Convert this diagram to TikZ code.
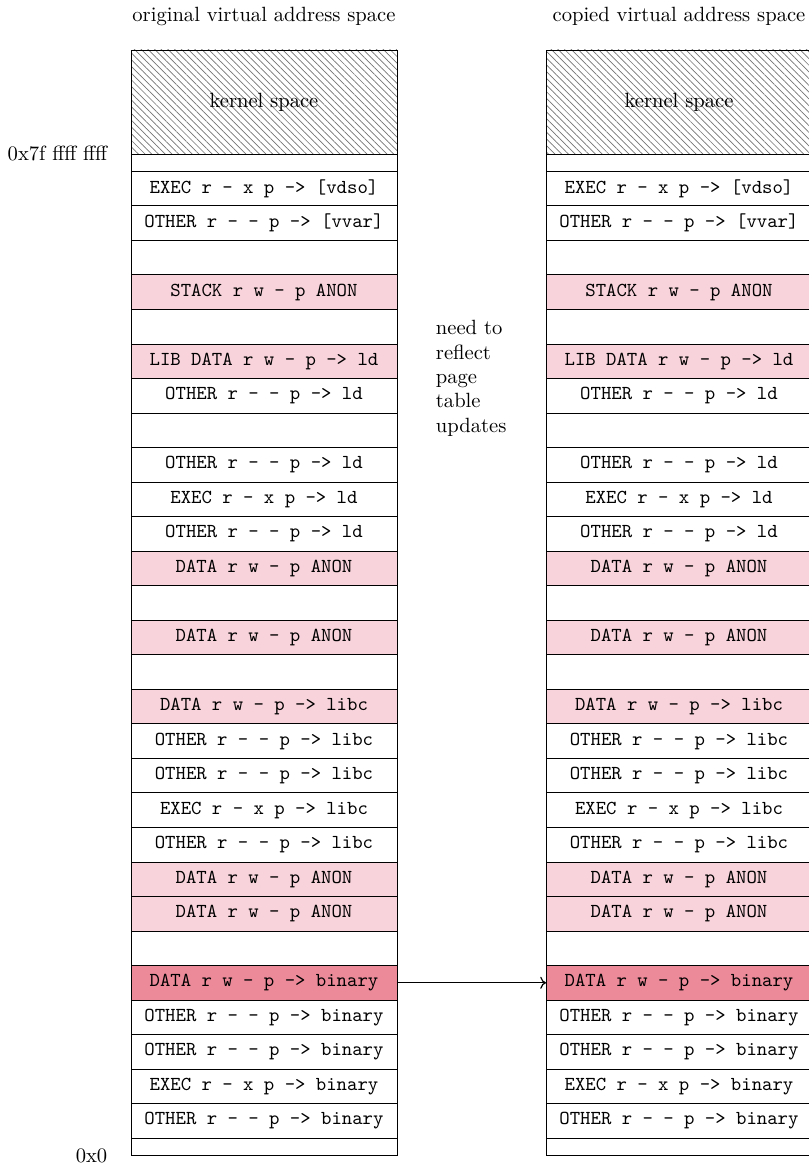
\documentclass[tikz,border=0pt]{standalone}
\usetikzlibrary{positioning, patterns.meta, arrows.meta}

\definecolor{rwpink}{RGB}{248,211,219}
\definecolor{hotpink}{RGB}{236,138,153}

\begin{document}
\begin{tikzpicture}[
    x=0.505pt, y=0.505pt,
    node distance=0pt,
    seg/.style={rectangle, draw, minimum width=134.3pt, minimum height=17.44pt, inner sep=0pt, outer sep=0pt, font=\ttfamily},
    gap/.style={seg, minimum height=8.72pt},
    rw/.style={seg, fill=rwpink},
    hot/.style={seg, fill=hotpink},
    kern/.style={seg, minimum height=52.5pt, font=\fontsize{10.4}{12.5}\selectfont, pattern={Lines[angle=-45, distance=2.4pt, line width=0.35pt]}, pattern color=black!55},
    lbl/.style={inner sep=0pt, outer sep=0pt, font=\fontsize{10.4}{12.3}\selectfont}
]
    \useasboundingbox (0,0) rectangle (809,-1165);

    % both address spaces look the same
    \foreach \col/\x in {o/131, c/546} {
        \node[kern, anchor=north west] (\col-kern) at (\x,-50) {kernel space};
        \node[gap, below=of \col-kern] (\col-top) {};
        \node[seg, below=of \col-top] (\col-vdso) {EXEC r - x p -> [vdso]};
        \node[seg, below=of \col-vdso] (\col-vvar) {OTHER r - - p -> [vvar]};
        \node[seg, below=of \col-vvar] (\col-g1) {};
        \node[rw, below=of \col-g1] (\col-stack) {STACK r w - p ANON};
        \node[seg, below=of \col-stack] (\col-g2) {};
        \node[rw, below=of \col-g2] (\col-libdata) {LIB DATA r w - p -> ld};
        \node[seg, below=of \col-libdata] (\col-ldo1) {OTHER r - - p -> ld};
        \node[seg, below=of \col-ldo1] (\col-g3) {};
        \node[seg, below=of \col-g3] (\col-ldo2) {OTHER r - - p -> ld};
        \node[seg, below=of \col-ldo2] (\col-ldx) {EXEC r - x p -> ld};
        \node[seg, below=of \col-ldx] (\col-ldo3) {OTHER r - - p -> ld};
        \node[rw, below=of \col-ldo3] (\col-anon1) {DATA r w - p ANON};
        \node[seg, below=of \col-anon1] (\col-g4) {};
        \node[rw, below=of \col-g4] (\col-anon2) {DATA r w - p ANON};
        \node[seg, below=of \col-anon2] (\col-g5) {};
        \node[rw, below=of \col-g5] (\col-libc) {DATA r w - p -> libc};
        \node[seg, below=of \col-libc] (\col-libco1) {OTHER r - - p -> libc};
        \node[seg, below=of \col-libco1] (\col-libco2) {OTHER r - - p -> libc};
        \node[seg, below=of \col-libco2] (\col-libcx) {EXEC r - x p -> libc};
        \node[seg, below=of \col-libcx] (\col-libco3) {OTHER r - - p -> libc};
        \node[rw, below=of \col-libco3] (\col-anon3) {DATA r w - p ANON};
        \node[rw, below=of \col-anon3] (\col-anon4) {DATA r w - p ANON};
        \node[seg, below=of \col-anon4] (\col-g6) {};
        \node[hot, below=of \col-g6] (\col-bin) {DATA r w - p -> binary};
        \node[seg, below=of \col-bin] (\col-bino1) {OTHER r - - p -> binary};
        \node[seg, below=of \col-bino1] (\col-bino2) {OTHER r - - p -> binary};
        \node[seg, below=of \col-bino2] (\col-binx) {EXEC r - x p -> binary};
        \node[seg, below=of \col-binx] (\col-bino3) {OTHER r - - p -> binary};
        \node[gap, below=of \col-bino3] (\col-bot) {};
    }

    \node[lbl, above=12.4pt of o-kern] (otitle) {original virtual address space};
    \node[lbl, above=12.4pt of c-kern] (ctitle) {copied virtual address space};
    \node[lbl, left=12pt of o-kern.south west] (hiaddr) {0x7f ffff ffff};
    \node[lbl, left=12pt of o-bot.south west] (loaddr) {0x0};
    \node[lbl, align=left, right=19.7pt of o-libdata.south east] (note) {need to\\reflect\\page\\table\\updates};

    \draw[->, line width=0.6pt] (o-bin) -- (c-bin);
\end{tikzpicture}
\end{document}
